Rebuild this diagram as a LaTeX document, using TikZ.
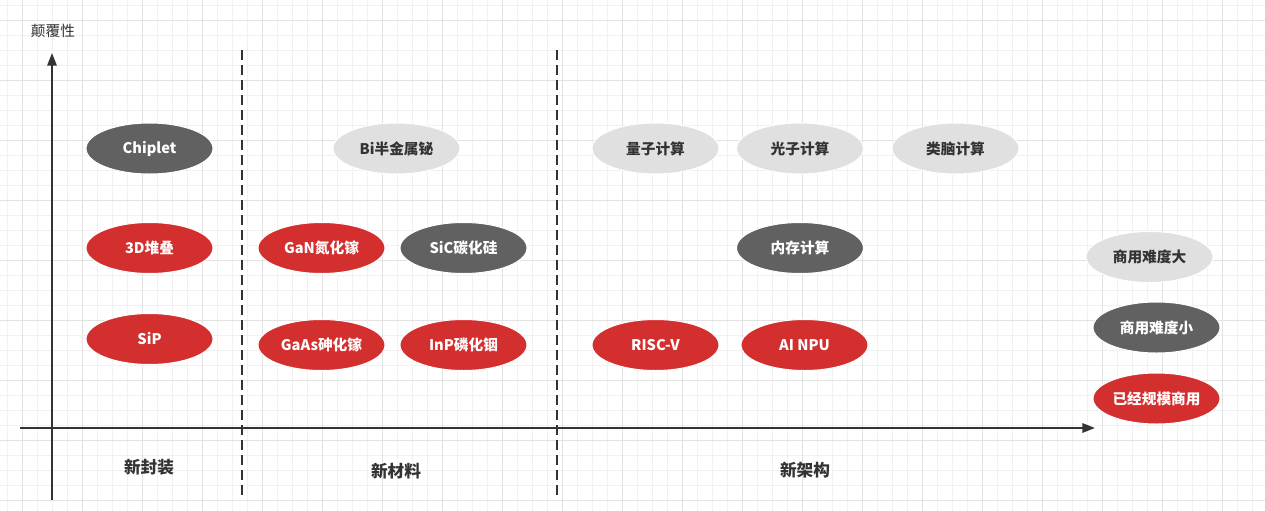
\documentclass[tikz,border=0pt]{standalone}
\usepackage{fontspec}
\setmainfont{Noto Sans CJK SC}
\usepackage{tikz}
\usetikzlibrary{shapes.geometric,arrows.meta,positioning}

\definecolor{hotred}{HTML}{D32F2F}
\definecolor{darkgrey}{HTML}{616161}
\definecolor{lightgrey}{HTML}{E0E0E0}
\definecolor{inkgrey}{HTML}{333333}
\definecolor{minorline}{HTML}{F1F1F1}
\definecolor{majorline}{HTML}{E2E2E2}

\tikzset{
 tech/.style={ellipse,draw=white,line width=0.75pt,minimum width=95.25pt,minimum height=38.25pt,inner sep=0pt,font=\bfseries\fontsize{11}{13}\selectfont},
 done/.style={tech,fill=hotred,text=white},
 easy/.style={tech,fill=darkgrey,text=white},
 hard/.style={tech,fill=lightgrey,text=inkgrey},
 axis/.style={line width=1.5pt,draw=inkgrey,-{Triangle[length=9.5pt,width=7pt]}},
 border/.style={line width=1.5pt,draw=inkgrey,dash pattern=on 7.5pt off 3.75pt},
 field/.style={text=inkgrey,font=\bfseries\fontsize{12.5}{14}\selectfont},
}

\begin{document}
\begin{tikzpicture}[x=0.75pt,y=-0.75pt]

\useasboundingbox[fill=white] (0,0) rectangle (1265,511);

% grid
\foreach \i in {0,...,84} \draw[minorline,line width=0.75pt] ({7.3+15*\i},0) -- ++(0,511);
\foreach \i in {0,...,34} \draw[minorline,line width=0.75pt] (0,{5.7+15*\i}) -- ++(1265,0);
\foreach \i in {0,...,20} \draw[majorline,line width=0.75pt] ({22.3+60*\i},0) -- ++(0,511);
\foreach \i in {0,...,8} \draw[majorline,line width=0.75pt] (0,{20.7+60*\i}) -- ++(1265,0);

% axes
\coordinate (ybottom) at (52,500);
\coordinate (ytop) at (52,53);
\coordinate (xleft) at (20,428);
\coordinate (xright) at (1095,428);
\draw[axis] (ybottom) -- (ytop);
\draw[axis] (xleft) -- (xright);
\node[text=inkgrey,font=\fontsize{11}{13}\selectfont] (disrupt) at (53,31) {颠覆性};

% borders between fields
\coordinate (packtop) at (242,50);
\coordinate (packbot) at (242,500);
\coordinate (mattop) at (557,50);
\coordinate (matbot) at (557,500);
\draw[border] (packtop) -- (packbot);
\draw[border] (mattop) -- (matbot);

\node[field] (package) at (149,467) {新封装};
\node[field] (material) at (396,471) {新材料};
\node[field] (arch) at (805,470) {新架构};

% new packaging
\node[easy] (chiplet) at (149.5,148.5) {Chiplet};
\node[done] (stack) at (149.5,248) {3D堆叠};
\node[done] (sip) at (149.5,339) {SiP};

% new materials
\node[hard] (bi) at (396.5,148.5) {Bi半金属铋};
\node[done] (gan) at (321.5,248) {GaN氮化镓};
\node[easy] (sic) at (463.5,248) {SiC碳化硅};
\node[done] (gaas) at (321.5,345) {GaAs砷化镓};
\node[done] (inp) at (463.5,345) {InP磷化铟};

% new architecture
\node[hard] (quantum) at (655.5,148.5) {量子计算};
\node[hard] (photon) at (800,148.5) {光子计算};
\node[hard] (brain) at (955.5,148.5) {类脑计算};
\node[easy] (memory) at (800,248) {内存计算};
\node[done] (riscv) at (655.5,345) {RISC-V};
\node[done] (npu) at (804.5,345) {AI NPU};

% legend
\node[hard] (hardkey) at (1149.5,257) {商用难度大};
\node[easy] (easykey) at (1156.5,327.5) {商用难度小};
\node[done] (donekey) at (1156.5,398.5) {已经规模商用};

\end{tikzpicture}
\end{document}
